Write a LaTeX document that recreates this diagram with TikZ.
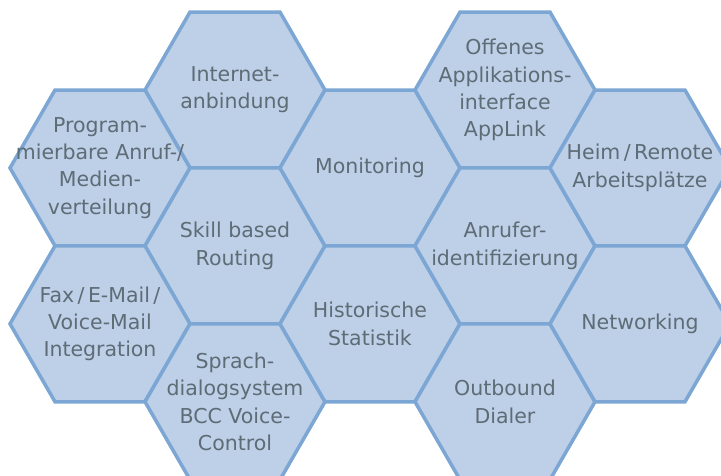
\documentclass[tikz,border=0pt]{standalone}
\usepackage{fontspec}
\setmainfont{DejaVu Sans}
\usetikzlibrary{shapes, positioning}
\definecolor{hexfill}{RGB}{190,207,232}
\definecolor{hexline}{RGB}{124,166,211}
\definecolor{hexgray}{RGB}{93,108,117}

\begin{document}
\begin{tikzpicture}[
  x=1pt, y=-1pt, on grid,
  hexnode/.style = {regular polygon, regular polygon sides=6, minimum size=180pt,
    inner sep=0, outer sep=0, draw=hexline, fill=hexfill, line width=3.5pt},
  htext/.style = {align=center, text=hexgray, font=\fontsize{20.5}{27.3}\selectfont},
  ]
  \clip (0,0) rectangle (721,475);
  \node[hexnode] (internet) at (235, 90) {};
  \node[hexnode, below left = 77.94pt and 135pt of internet] (program) {};
  \node[hexnode, below = 155.88pt of internet] (skill) {};
  \node[hexnode, below = 155.88pt of program] (fax) {};
  \node[hexnode, below = 155.88pt of skill] (sprach) {};
  \node[hexnode, below right = 77.94pt and 135pt of internet] (monitor) {};
  \node[hexnode, below = 155.88pt of monitor] (histor) {};
  \node[hexnode, above right = 77.94pt and 135pt of monitor] (offen) {};
  \node[hexnode, below = 155.88pt of offen] (anrufer) {};
  \node[hexnode, below = 155.88pt of anrufer] (outbound) {};
  \node[hexnode, below right = 77.94pt and 135pt of offen] (heim) {};
  \node[hexnode, below = 155.88pt of heim] (network) {};

  \node[htext] (internett) at (internet) {Internet-\\anbindung};
  \node[htext] (programt) at (program) {Program-\\mierbare Anruf-/\\Medien-\\verteilung};
  \node[htext] (skillt) at (skill) {Skill based\\Routing};
  \node[htext] (faxt) at (fax) {Fax\,/\,E-Mail\,/\\Voice-Mail\\Integration};
  \node[htext] (spracht) at (sprach) {Sprach-\\dialogsystem\\BCC Voice-\\Control};
  \node[htext] (monitort) at (monitor) {Monitoring};
  \node[htext] (historit) at (histor) {Historische\\Statistik};
  \node[htext] (offent) at (offen) {Offenes\\Applikations-\\interface\\AppLink};
  \node[htext] (anrufert) at (anrufer) {Anrufer-\\identifizierung};
  \node[htext] (outboundt) at (outbound) {Outbound\\Dialer};
  \node[htext] (heimt) at (heim) {Heim\,/\,Remote\\Arbeitsplätze};
  \node[htext] (networkt) at (network) {Networking};
\end{tikzpicture}
\end{document}
